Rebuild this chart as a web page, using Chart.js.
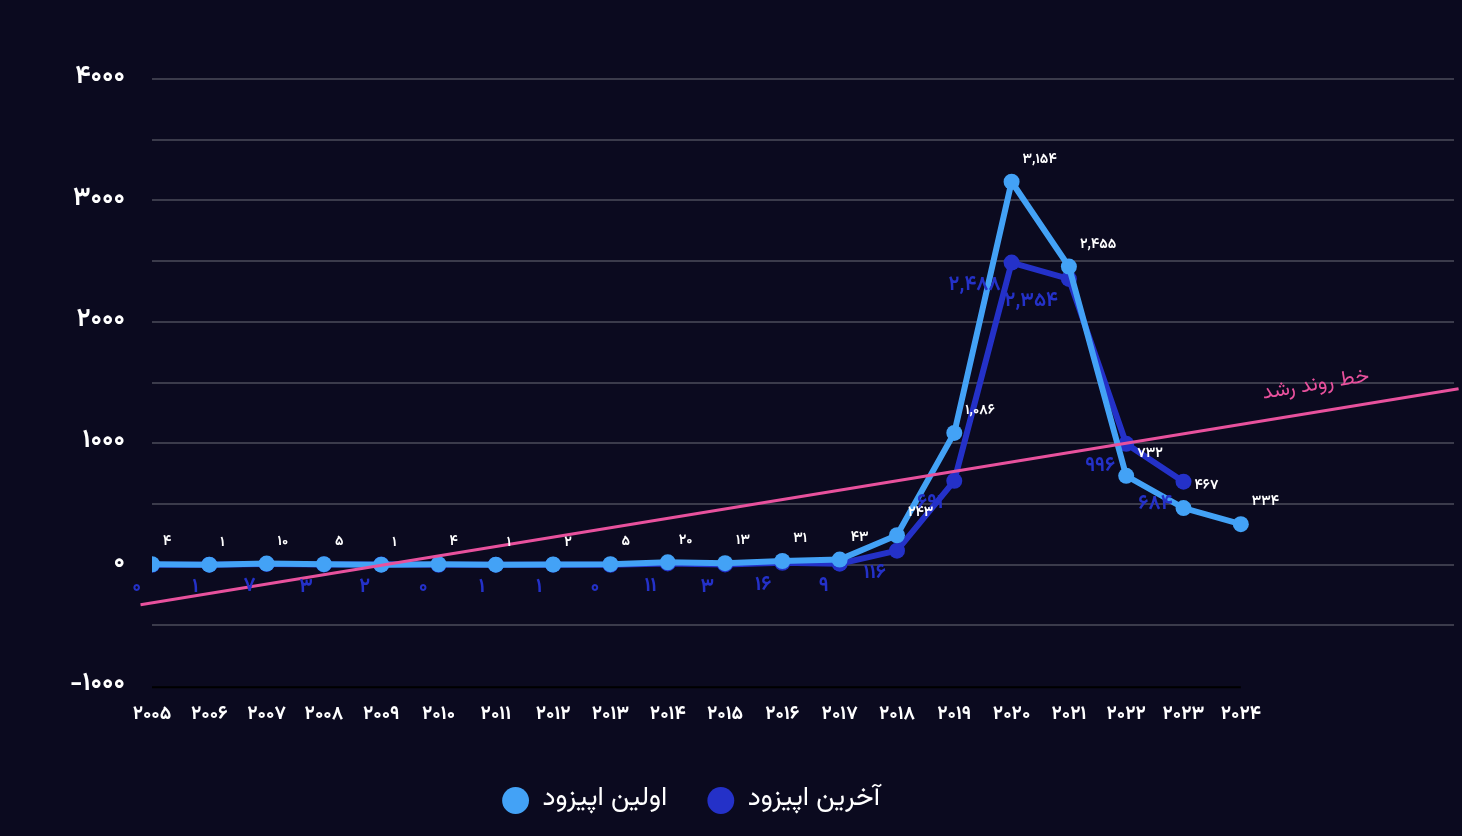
<!DOCTYPE html>
<html>
<head>
<meta charset="utf-8">
<script src="https://cdn.jsdelivr.net/npm/chart.js@4"></script>
<style>
  html, body { margin: 0; padding: 0; background: #0b0a1f; }
  #wrap { width: 1462px; height: 836px; position: relative; }
</style>
</head>
<body>
<div id="wrap"><canvas id="episodeChart"></canvas></div>
<script>
// Data
const years = [2005, 2006, 2007, 2008, 2009, 2010, 2011, 2012, 2013, 2014,
  2015, 2016, 2017, 2018, 2019, 2020, 2021, 2022, 2023, 2024];
const firstEpisode = [4, 1, 10, 5, 1, 4, 1, 2, 5, 20, 13, 31, 43, 243, 1086, 3154, 2455, 732, 467, 334];
const lastEpisode = [0, 1, 7, 3, 2, 0, 1, 1, 0, 11, 3, 16, 9, 116, 691, 2488, 2354, 996, 684];
const trendYears = [2004.8, 2027.8];
const trendValues = [-330, 1450];
const yTicks = [-1000, 0, 1000, 2000, 3000, 4000];
const seriesNames = ["اولین اپیزود", "آخرین اپیزود", "خط روند رشد"];

const LIGHT = "#43a2f6";
const DARK = "#2431c8";
const PINK = "#e8519d";
const FONT = "Vazirmatn, 'DejaVu Sans', sans-serif";

const faDigits = "۰۱۲۳۴۵۶۷۸۹";
function fa(n, sep) {
  let s = String(n);
  if (sep) s = s.replace(/\B(?=(\d{3})+(?!\d))/g, ",");
  return s.replace(/\d/g, d => faDigits[d]);
}

function toPoints(xs, ys) {
  return ys.map((v, i) => ({ x: xs[i], y: v }));
}

// values next to the points + trend caption + bottom rule
const extrasPlugin = {
  id: "extras",
  afterLayout(chart) {
    // legend sits a bit left of centre in the original
    if (chart.legend) {
      chart.legend.left -= 40;
      chart.legend.right -= 40;
    }
  },
  afterDatasetsDraw(chart) {
    const { ctx, scales } = chart;
    const x = scales.x, y = scales.y;
    ctx.save();

    // black rule along -1000
    ctx.strokeStyle = "#000";
    ctx.lineWidth = 2;
    ctx.beginPath();
    ctx.moveTo(x.getPixelForValue(years[0]), y.getPixelForValue(-1000) + 1);
    ctx.lineTo(x.getPixelForValue(years[years.length - 1]), y.getPixelForValue(-1000) + 1);
    ctx.stroke();

    ctx.textBaseline = "middle";
    const light = chart.getDatasetMeta(1).data;
    ctx.fillStyle = "#fff";
    ctx.font = "bold 14px " + FONT;
    ctx.textAlign = "left";
    light.forEach((pt, i) => {
      ctx.fillText(fa(firstEpisode[i], true), pt.x + 11, pt.y - 21);
    });

    const dark = chart.getDatasetMeta(2).data;
    ctx.fillStyle = DARK;
    ctx.font = "bold 20px " + FONT;
    ctx.textAlign = "right";
    dark.forEach((pt, i) => {
      ctx.fillText(fa(lastEpisode[i], true), pt.x - 11, pt.y + 24);
    });

    // trend caption, rotated along the line
    const x0 = x.getPixelForValue(trendYears[0]), y0 = y.getPixelForValue(trendValues[0]);
    const x1 = x.getPixelForValue(trendYears[1]), y1 = y.getPixelForValue(trendValues[1]);
    const ang = Math.atan2(y1 - y0, x1 - x0);
    const t = (1320 - x0) / (x1 - x0);
    const cx = x0 + t * (x1 - x0), cy = y0 + t * (y1 - y0);
    ctx.translate(cx, cy);
    ctx.rotate(ang);
    ctx.fillStyle = PINK;
    ctx.font = "21px " + FONT;
    ctx.textAlign = "center";
    ctx.fillText(seriesNames[2], 0, -25);
    ctx.restore();
  }
};

const ctx = document.getElementById("episodeChart").getContext("2d");

new Chart(ctx, {
  type: "line",
  data: {
    datasets: [
      {
        label: seriesNames[2],
        data: toPoints(trendYears, trendValues),
        borderColor: PINK,
        borderWidth: 3,
        pointRadius: 0,
        clip: false
      },
      {
        label: seriesNames[0],
        data: toPoints(years, firstEpisode),
        borderColor: LIGHT,
        backgroundColor: LIGHT,
        borderWidth: 6,
        pointRadius: 8,
        pointBorderWidth: 0
      },
      {
        label: seriesNames[1],
        data: toPoints(years, lastEpisode),
        borderColor: DARK,
        backgroundColor: DARK,
        borderWidth: 6,
        pointRadius: 8,
        pointBorderWidth: 0
      }
    ]
  },
  options: {
    responsive: true,
    maintainAspectRatio: false,
    animation: false,
    layout: { padding: { top: 79, right: 0, left: 0, bottom: 12 } },
    plugins: {
      tooltip: { enabled: false },
      legend: {
        position: "bottom",
        labels: {
          filter: item => item.datasetIndex !== 0,
          color: "#fff",
          font: { family: FONT, size: 27 },
          usePointStyle: true,
          pointStyle: "circle",
          boxHeight: 19,
          padding: 40,
          generateLabels(chart) {
            return chart.data.datasets.map((ds, i) => ({
              text: ds.label,
              fillStyle: ds.backgroundColor,
              strokeStyle: ds.backgroundColor,
              lineWidth: 0,
              pointStyle: "circle",
              fontColor: "#fff",
              datasetIndex: i
            }));
          }
        }
      }
    },
    scales: {
      x: {
        type: "linear",
        min: 2005,
        max: 2027.72,
        afterBuildTicks: scale => { scale.ticks = years.map(v => ({ value: v })); },
        afterFit: scale => { scale.height += 2; },
        grid: { display: false, drawTicks: false },
        border: { display: false },
        ticks: {
          color: "#fff",
          padding: 18,
          maxRotation: 0,
          autoSkip: false,
          font: { family: FONT, size: 19, weight: "bold" },
          callback: v => fa(v)
        }
      },
      y: {
        min: -1000,
        max: 4000,
        afterFit: scale => { scale.width = 152; },
        afterBuildTicks: scale => {
          const t = [];
          for (let v = -1000; v <= 4000; v += 500) t.push({ value: v });
          scale.ticks = t;
        },
        border: { display: false },
        grid: {
          drawTicks: false,
          lineWidth: 2,
          color: c => (c.tick && c.tick.value === -1000) ? "rgba(0,0,0,0)" : "rgba(255,255,255,0.2)"
        },
        ticks: {
          color: "#fff",
          padding: 27,
          font: { family: FONT, size: 26, weight: "bold" },
          callback: v => yTicks.includes(v) ? fa(v) : ""
        }
      }
    }
  },
  plugins: [extrasPlugin]
});
</script>
</body>
</html>
